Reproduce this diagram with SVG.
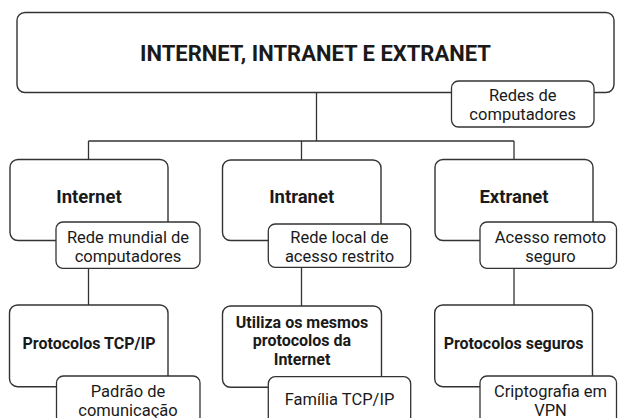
<svg xmlns="http://www.w3.org/2000/svg" width="618" height="418" viewBox="0 0 618 418">
<style>
.box{fill:#fff;stroke:#333;stroke-width:1.4}
.sub{fill:#fff;stroke:#333;stroke-width:1.3}
.con{fill:none;stroke:#333;stroke-width:1.3}
.t{font-family:Roboto,"Liberation Sans",sans-serif;fill:#1a1a1a;text-anchor:middle}
.title{font-size:22px;font-weight:700}
.b{font-size:18.5px;font-weight:700}
.b2{font-size:16px;font-weight:700}
.r{font-size:16.5px;font-weight:400}
</style>
<rect width="618" height="418" fill="#fff"/>
<g id="connectors">
<path class="con" d="M316.5 92.5V141M88.5 141H514M88.5 141V159.5M301.5 141V160M514 141V159.5"/>
<path class="con" d="M88.5 268V305M301.5 267V306M514 268V305"/>
</g>
<g id="root">
<rect class="box" x="17" y="12.5" width="597" height="80" rx="8"/>
<text class="t title" x="315.5" y="61">INTERNET, INTRANET E EXTRANET</text>
</g>
<g id="root-label">
<rect class="sub" x="451.5" y="81" width="142.5" height="46" rx="7"/>
<text class="t r" x="522.7" y="101">Redes de</text>
<text class="t r" x="522.7" y="120">computadores</text>
</g>
<g id="internet">
<rect class="box" x="10" y="159.5" width="158" height="81" rx="8"/>
<text class="t b" x="89" y="203.3">Internet</text>
</g>
<g id="internet-label">
<rect class="sub" x="56" y="222" width="144" height="46.3" rx="7"/>
<text class="t r" x="128" y="242.7">Rede mundial de</text>
<text class="t r" x="128" y="261.7">computadores</text>
</g>
<g id="intranet">
<rect class="box" x="222.5" y="160" width="158.5" height="80.5" rx="8"/>
<text class="t b" x="301.7" y="203.3">Intranet</text>
</g>
<g id="intranet-label">
<rect class="sub" x="268.3" y="224" width="142.4" height="43.3" rx="7"/>
<text class="t r" x="339.5" y="242.7">Rede local de</text>
<text class="t r" x="339.5" y="261.7">acesso restrito</text>
</g>
<g id="extranet">
<rect class="box" x="435" y="159.5" width="158" height="81" rx="8"/>
<text class="t b" x="514" y="203.3">Extranet</text>
</g>
<g id="extranet-label">
<rect class="sub" x="480" y="222" width="136.5" height="46.3" rx="7"/>
<text class="t r" x="550.5" y="242.7">Acesso remoto</text>
<text class="t r" x="550.5" y="261.7">seguro</text>
</g>
<g id="tcpip">
<rect class="box" x="9.5" y="305" width="158.5" height="81.7" rx="8"/>
<text class="t b2" x="89" y="348.5">Protocolos TCP/IP</text>
</g>
<g id="tcpip-label">
<rect class="sub" x="56.5" y="376" width="143.5" height="48" rx="7"/>
<text class="t r" x="128" y="397">Padrão de</text>
<text class="t r" x="128" y="416">comunicação</text>
</g>
<g id="mesmos">
<rect class="box" x="222.5" y="306" width="159" height="81.3" rx="8"/>
<text class="t b2" x="302" y="327.5">Utiliza os mesmos</text>
<text class="t b2" x="302" y="346">protocolos da</text>
<text class="t b2" x="302" y="364.5">Internet</text>
</g>
<g id="mesmos-label">
<rect class="sub" x="268.3" y="376.7" width="142.4" height="48" rx="7"/>
<text class="t r" x="339.5" y="405">Família TCP/IP</text>
</g>
<g id="seguros">
<rect class="box" x="434.7" y="305" width="157.8" height="81.7" rx="8"/>
<text class="t b2" x="513.6" y="348.5">Protocolos seguros</text>
</g>
<g id="seguros-label">
<rect class="sub" x="480" y="376" width="136.5" height="48" rx="7"/>
<text class="t r" x="550.5" y="397">Criptografia em</text>
<text class="t r" x="550.5" y="416">VPN</text>
</g>
</svg>
